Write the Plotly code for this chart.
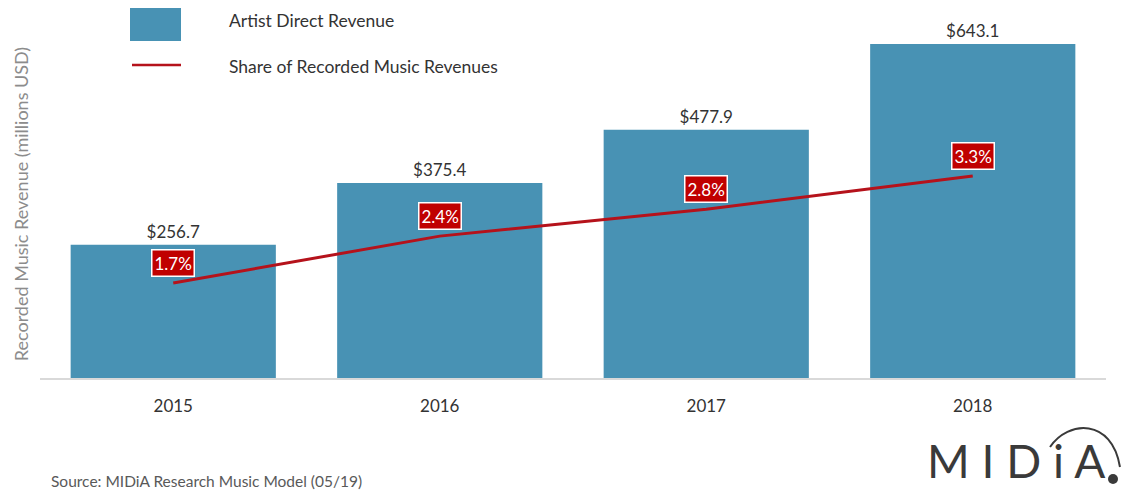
import plotly.graph_objects as go

years = ["2015", "2016", "2017", "2018"]
revenue = [256.7, 375.4, 477.9, 643.1]          # millions USD
share = [1.7, 2.4, 2.8, 3.3]                     # % of recorded music revenues

revenue_labels = [f"${v:.1f}" for v in revenue]
share_labels = [f"{v:.1f}%" for v in share]

BLUE = "#4892b4"
RED = "#c00000"
LINE_RED = "#b5121b"
FONT = "Lato"

W, H = 1130, 490
L, R, T, B = 40, 24, 30, 112
PW, PH = W - L - R, H - T - B


def to_px(x):
    return (x - L) / PW


def to_py(y):
    return (H - B - y) / PH


fig = go.Figure()

fig.add_trace(go.Bar(
    x=years, y=revenue, marker_color=BLUE, marker_line_width=0,
    text=revenue_labels, textposition="outside", cliponaxis=False,
    textfont=dict(size=17, color="#333333", family=FONT),
    name="Artist Direct Revenue", showlegend=False,
))

fig.add_trace(go.Scatter(
    x=years, y=share, yaxis="y2", mode="lines",
    line=dict(color=LINE_RED, width=3),
    name="Share of Recorded Music Revenues", showlegend=False,
))

# percentage call-outs above each line point (x given as category index)
for i, (v, lab) in enumerate(zip(share, share_labels)):
    fig.add_annotation(
        x=i, y=v, xref="x", yref="y2", text=lab, showarrow=False,
        yshift=20, bgcolor=RED, bordercolor="white", borderwidth=1.5,
        borderpad=2, font=dict(size=17, color="white", family=FONT),
    )

fig.update_layout(
    width=W, height=H,
    margin=dict(l=L, r=R, t=T, b=B),
    paper_bgcolor="white", plot_bgcolor="white",
    bargap=0.23,
    showlegend=False,
    font=dict(family=FONT, color="#333333"),
    xaxis=dict(type="category", categoryorder="array", categoryarray=years,
               range=[-0.5, len(years) - 0.5], autorange=False,
               showgrid=False, showline=True,
               linecolor="#d9d9d9", linewidth=1.5, ticks="",
               tickfont=dict(size=17, color="#333333"),
               ticklabelstandoff=12),
    yaxis=dict(range=[0, 670], showgrid=False, showticklabels=False,
               zeroline=False,
               title=dict(text="Recorded Music Revenue (millions USD)",
                          font=dict(size=18, color="#8c8c8c"), standoff=5)),
    yaxis2=dict(range=[0.28, 5.48], overlaying="y", showgrid=False,
                showticklabels=False, zeroline=False, side="right"),
)

# legend swatches
fig.add_shape(type="rect", xref="paper", yref="paper",
              x0=to_px(130), x1=to_px(181), y0=to_py(41), y1=to_py(8),
              fillcolor=BLUE, line_width=0)
fig.add_shape(type="line", xref="paper", yref="paper",
              x0=to_px(132), x1=to_px(181), y0=to_py(65), y1=to_py(65),
              line=dict(color=LINE_RED, width=2.5))
# logo arc and dot
fig.add_shape(type="path", xref="paper", yref="paper",
              path=(f"M {to_px(1050):.4f},{to_py(447):.4f} "
                    f"C {to_px(1068):.4f},{to_py(420):.4f} "
                    f"{to_px(1112):.4f},{to_py(418):.4f} "
                    f"{to_px(1120):.4f},{to_py(467):.4f}"),
              line=dict(color="#3a3a3a", width=2))
fig.add_shape(type="circle", xref="paper", yref="paper",
              x0=to_px(1108), x1=to_px(1118), y0=to_py(484), y1=to_py(474),
              fillcolor="#3a3a3a", line_width=0)

texts = [
    ("Artist Direct Revenue", 228, 21, 17.5, "#333333", "left"),
    ("Share of Recorded Music Revenues", 228, 66, 17.5, "#333333", "left"),
    ("Source: MIDiA Research Music Model (05/19)", 50, 481, 15.5, "#595959", "left"),
    ("M I D i A", 1016, 461, 46, "#3a3a3a", "center"),
]
for txt, x, y, size, color, anchor in texts:
    fig.add_annotation(text=txt, x=to_px(x), y=to_py(y), xref="paper",
                       yref="paper", xanchor=anchor, yanchor="middle",
                       showarrow=False, borderpad=0,
                       font=dict(size=size, color=color, family=FONT))

fig.write_html("out.html")
